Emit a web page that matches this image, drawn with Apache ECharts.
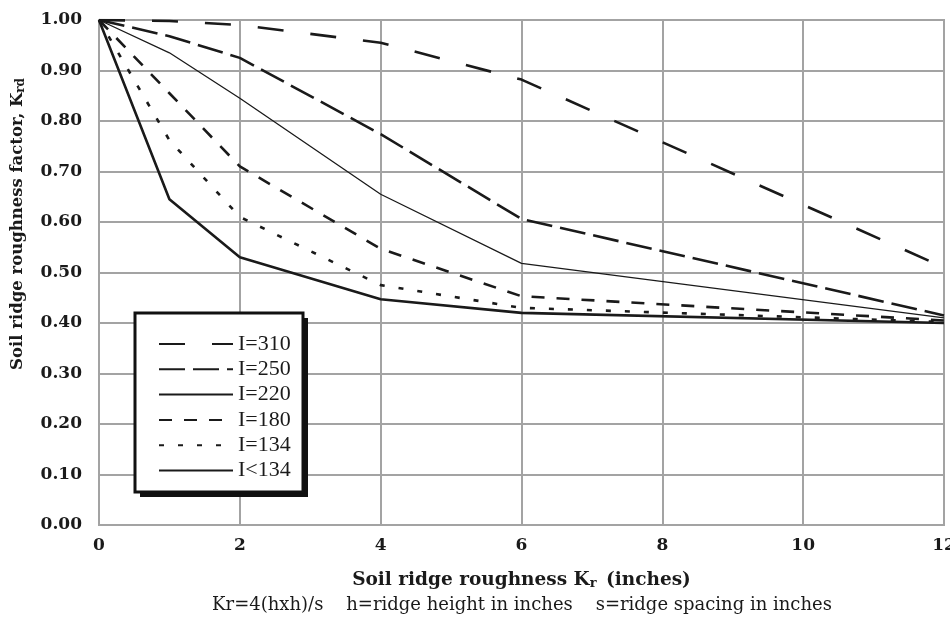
<!DOCTYPE html>
<html>
<head>
<meta charset="utf-8">
<script src="https://cdn.jsdelivr.net/npm/echarts@6/dist/echarts.min.js"></script>
<style>
  html, body { margin: 0; padding: 0; background: #fff; }
  #main { width: 950px; height: 617px; }
</style>
</head>
<body>
<div id="main"></div>
<script>
// ridge roughness Kr (inches) where the curves are sampled
var krValues = [0, 1, 2, 4, 6, 12];

// Krd, one list per rainfall intensity
var krdI310 = [1.00, 0.998, 0.99, 0.955, 0.882, 0.51];
var krdI250 = [1.00, 0.968, 0.925, 0.774, 0.606, 0.415];
var krdI220 = [1.00, 0.935, 0.845, 0.655, 0.518, 0.41];
var krdI180 = [1.00, 0.855, 0.71, 0.547, 0.453, 0.405];
var krdI134 = [1.00, 0.762, 0.61, 0.475, 0.43, 0.402];
var krdIlt134 = [1.00, 0.645, 0.53, 0.447, 0.42, 0.40];

var seriesNames = ['I=310', 'I=250', 'I=220', 'I=180', 'I=134', 'I<134'];
var xTicks = [0, 2, 4, 6, 8, 10, 12];

var serif = 'DejaVu Serif';
var legendFont = 'Liberation Serif';
var ink = '#1a1a1a';

function pairs(ys) {
  var out = [];
  for (var i = 0; i < krValues.length; i++) {
    out.push([krValues[i], ys[i]]);
  }
  return out;
}

function lineSeries(name, ys, width, dash) {
  return {
    name: name,
    type: 'line',
    data: pairs(ys),
    symbol: 'none',
    showSymbol: false,
    smooth: false,
    z: 3,
    itemStyle: { color: ink },
    lineStyle: { color: ink, width: width, type: dash, cap: 'butt' },
    emphasis: { disabled: true }
  };
}

var myChart = echarts.init(document.getElementById('main'));

var option = {
  animation: false,
  backgroundColor: '#fff',
  grid: {
    left: 99, right: 6, top: 20, bottom: 92,
    outerBoundsMode: 'none',
    containLabel: false,
    show: true,
    borderColor: '#a3a3a3',
    borderWidth: 2,
    backgroundColor: 'transparent'
  },
  xAxis: {
    type: 'value',
    min: 0, max: 12, interval: 2,
    axisLine: { show: true, lineStyle: { color: '#a3a3a3', width: 2 } },
    axisTick: { show: false },
    splitLine: { show: true, lineStyle: { color: '#a3a3a3', width: 2 } },
    axisLabel: {
      margin: 12,
      color: ink, fontFamily: serif, fontWeight: 'bold', fontSize: 17,
      formatter: function (v) { return xTicks.indexOf(v) >= 0 ? String(v) : ''; }
    },
    name: 'Soil ridge roughness K{sub|r} (inches)',
    nameLocation: 'middle',
    nameGap: 46,
    nameTextStyle: {
      color: ink, fontFamily: serif, fontWeight: 'bold', fontSize: 18.5,
      rich: {
        sub: { fontFamily: serif, fontWeight: 'bold', fontSize: 13, color: ink,
               verticalAlign: 'bottom', lineHeight: 13, padding: [10, 3, 0, 0] }
      }
    }
  },
  yAxis: {
    type: 'value',
    min: 0, max: 1, interval: 0.1,
    axisLine: { show: true, lineStyle: { color: '#a3a3a3', width: 2 } },
    axisTick: { show: false },
    splitLine: { show: true, lineStyle: { color: '#a3a3a3', width: 2 } },
    axisLabel: {
      margin: 17,
      color: ink, fontFamily: serif, fontWeight: 'bold', fontSize: 17,
      formatter: function (v) { return v.toFixed(2); }
    }
  },
  legend: {
    data: seriesNames,
    orient: 'vertical',
    left: 153,
    top: 328,
    z: 10,
    itemWidth: 74,
    itemHeight: 14,
    itemGap: 3.3,
    selectedMode: false,
    itemStyle: { opacity: 0 },
    textStyle: { color: ink, fontFamily: legendFont, fontSize: 22, lineHeight: 22 }
  },
  graphic: [
    { type: 'rect', z: 8, shape: { x: 140, y: 318, width: 168, height: 179 },
      style: { fill: '#111' } },
    { type: 'rect', z: 9, shape: { x: 135, y: 313, width: 168, height: 179 },
      style: { fill: '#fff', stroke: '#111', lineWidth: 3 } },
    { type: 'text', z: 9, x: 18, y: 224, rotation: Math.PI / 2,
      style: {
        text: 'Soil ridge roughness factor, K{sub|rd}',
        fill: ink, font: 'bold 16.5px "DejaVu Serif"',
        align: 'center', verticalAlign: 'middle',
        rich: {
          sub: { fontFamily: serif, fontWeight: 'bold', fontSize: 12, fill: ink,
                 verticalAlign: 'bottom', lineHeight: 12, padding: [9, 0, 0, 0] }
        }
      } },
    { type: 'text', z: 9, x: 522, y: 605,
      style: {
        text: 'Kr=4(hxh)/s    h=ridge height in inches    s=ridge spacing in inches',
        fill: ink, font: '18px "DejaVu Serif"',
        align: 'center', verticalAlign: 'middle'
      } }
  ],
  series: [
    lineSeries('I=310', krdI310, 2.6, [26, 27]),
    lineSeries('I=250', krdI250, 2.6, [26, 8]),
    lineSeries('I=220', krdI220, 1.3, 'solid'),
    lineSeries('I=180', krdI180, 2.6, [13, 12]),
    lineSeries('I=134', krdI134, 2.6, [5, 14]),
    lineSeries('I<134', krdIlt134, 2.6, 'solid')
  ]
};

option && myChart.setOption(option);
</script>
</body>
</html>
